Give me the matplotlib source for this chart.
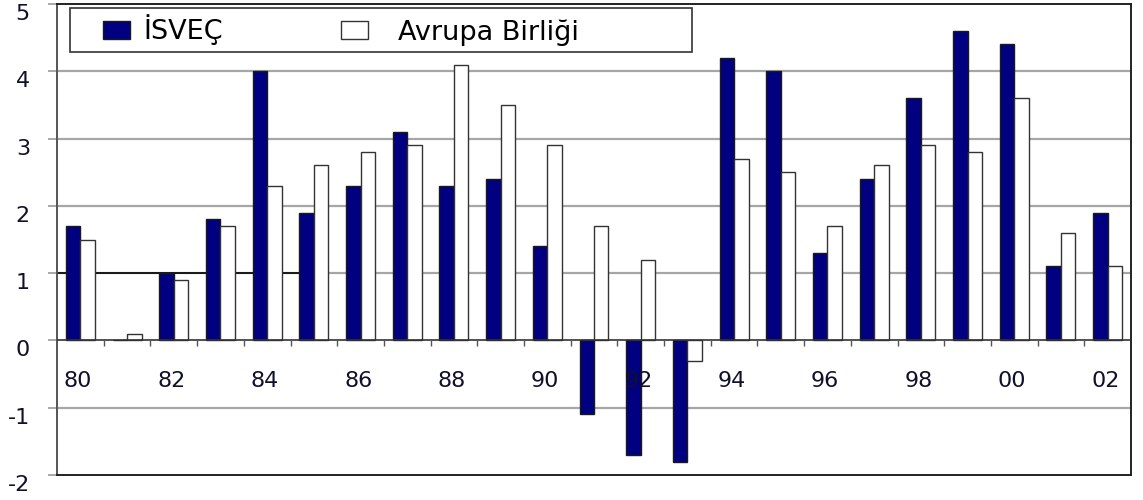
import matplotlib
matplotlib.use("Agg")
import matplotlib.pyplot as plt
from matplotlib.patches import Rectangle
import numpy as np

years = ["80", "81", "82", "83", "84", "85", "86", "87", "88", "89", "90", "91",
         "92", "93", "94", "95", "96", "97", "98", "99", "00", "01", "02"]
isvec = [1.7, 0.0, 1.0, 1.8, 4.0, 1.9, 2.3, 3.1, 2.3, 2.4, 1.4, -1.1,
         -1.7, -1.8, 4.2, 4.0, 1.3, 2.4, 3.6, 4.6, 4.4, 1.1, 1.9]
ab = [1.5, 0.1, 0.9, 1.7, 2.3, 2.6, 2.8, 2.9, 4.1, 3.5, 2.9, 1.7,
      1.2, -0.3, 2.7, 2.5, 1.7, 2.6, 2.9, 2.8, 3.6, 1.6, 1.1]
yticks = [-2, -1, 0, 1, 2, 3, 4, 5]

fig = plt.figure(figsize=(11.43, 5), dpi=100)
ax = fig.add_axes([0.0499, 0.05, 0.9396, 0.942])

x = np.arange(len(years))
w = 0.31
b1 = ax.bar(x - w / 2, isvec, w, color="#000080", edgecolor="#1a1a1a", linewidth=1, zorder=3)
b2 = ax.bar(x + w / 2, ab, w, color="white", edgecolor="#333333", linewidth=1, zorder=3)

ax.set_xlim(-0.5, len(years) - 0.5)
ax.set_ylim(-2, 5)

# grid
for v in yticks:
    if v in (0, -2, 5):
        continue
    ax.axhline(v, color="#a6a6a6", linewidth=1.6, zorder=1)
ax.hlines(1, -0.5, 4.7, color="black", linewidth=1.2, zorder=2)
ax.axhline(0, color="#333333", linewidth=1.2, zorder=4)
ax.vlines(x[:-1] + 0.5, -0.08, 0, color="#555555", linewidth=1, zorder=4)

# year labels under the zero line
for i in range(0, len(years), 2):
    ax.text(x[i] - 0.05, -0.6, years[i], ha="center", va="center",
            fontsize=16, color="#10102a", zorder=5)

ax.set_xticks([])
ax.set_yticks(yticks)
ax.set_yticklabels([str(v) for v in yticks], fontsize=16, color="#10102a")
ax.tick_params(axis="y", length=6.5, width=1.2, color="#999999", pad=13)
for lab in ax.get_yticklabels():
    lab.set_verticalalignment("top")

for s in ["left", "bottom", "right", "top"]:
    ax.spines[s].set_color("#222222")
    ax.spines[s].set_linewidth(1.4)
ax.spines["left"].set_color("#555555")

# legend box
ax.add_patch(Rectangle((0.012, 0.898), 0.579, 0.0935, transform=ax.transAxes,
                       facecolor="white", edgecolor="#333333", linewidth=1.2, zorder=6))
opts = dict(loc="center left", fontsize=19.5, frameon=False, handlelength=1.0,
            handleheight=0.67, borderaxespad=0, borderpad=0)
leg1 = ax.legend([b1], ["İSVEÇ"], bbox_to_anchor=(0.0428, 0.945),
                 handletextpad=0.48, **opts)
leg1.set_zorder(7)
ax.add_artist(leg1)
leg2 = ax.legend([b2], ["Avrupa Birliği"], bbox_to_anchor=(0.2645, 0.9395),
                 handletextpad=1.1, **opts)
leg2.set_zorder(7)

fig.savefig("out.png", dpi=100)
